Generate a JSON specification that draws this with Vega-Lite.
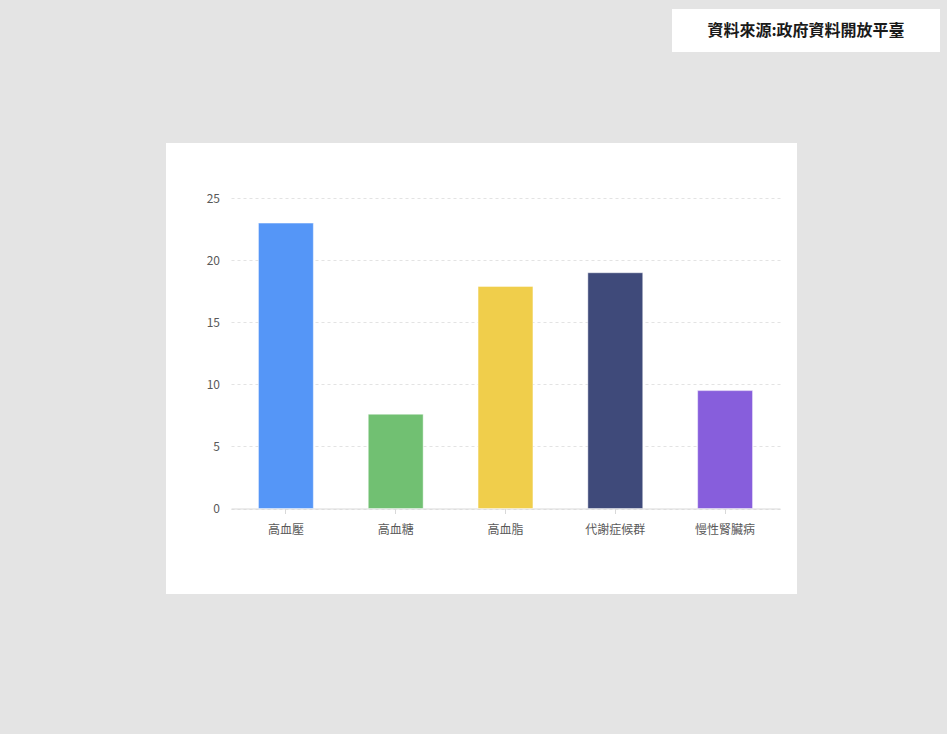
{
  "$schema": "https://vega.github.io/schema/vega-lite/v6.json",
  "background": "#e4e4e4",
  "padding": {"top": 9, "left": 0, "right": 7, "bottom": 140},
  "autosize": {"type": "pad"},
  "config": {
    "view": {"stroke": null},
    "font": "Noto Sans CJK TC",
    "concat": {"spacing": 0}
  },
  "spacing": 91,
  "vconcat": [
    {
      "spacing": 0,
      "hconcat": [
        {
          "width": 672,
          "height": 43,
          "data": {"values": []},
          "mark": "point",
          "encoding": {}
        },
        {
          "width": 268,
          "height": 43,
          "view": {"fill": "white", "stroke": null},
          "data": {"values": [{"label": "資料來源:政府資料開放平臺"}]},
          "mark": {"type": "text", "fontSize": 16, "fontWeight": "bold", "font": "Noto Sans CJK TC", "color": "#1a1a1a", "baseline": "middle", "align": "center"},
          "encoding": {"text": {"field": "label", "type": "nominal"}}
        }
      ]
    },
    {
      "spacing": 0,
      "hconcat": [
        {
          "width": 166,
          "height": 451,
          "data": {"values": []},
          "mark": "point",
          "encoding": {}
        },
        {
          "width": 631,
          "height": 451,
          "view": {"fill": "white", "stroke": null},
          "data": {
            "values": [
              {"disease": "高血壓", "value": 23},
              {"disease": "高血糖", "value": 7.6},
              {"disease": "高血脂", "value": 17.9},
              {"disease": "代謝症候群", "value": 19},
              {"disease": "慢性腎臟病", "value": 9.5}
            ]
          },
          "mark": {"type": "bar", "stroke": "white", "strokeOpacity": 0.45, "strokeWidth": 1},
          "encoding": {
            "x": {
              "field": "disease",
              "type": "nominal",
              "sort": null,
              "scale": {"range": [65, 614], "paddingInner": 0.5, "paddingOuter": 0.25},
              "axis": {
                "title": null,
                "offset": -85.5,
                "labelAngle": 0,
                "domainColor": "#d9d9d9",
                "tickColor": "#d9d9d9",
                "tickSize": 5,
                "labelPadding": 11,
                "labelFontSize": 12,
                "labelColor": "#595959",
                "labelFont": "Noto Sans CJK TC",
                "grid": false
              }
            },
            "y": {
              "field": "value",
              "type": "quantitative",
              "scale": {"domain": [0, 25], "range": [365.5, 55.3], "nice": false},
              "axis": {
                "title": null,
                "offset": -57.5,
                "ticks": false,
                "domain": false,
                "labelPadding": 4,
                "values": [0, 5, 10, 15, 20, 25],
                "grid": true,
                "gridColor": "#e3e3e3",
                "gridDash": [3, 3],
                "labelColor": "#595959",
                "labelFontSize": 12,
                "labelFont": "Noto Sans CJK TC"
              }
            },
            "color": {
              "field": "disease",
              "type": "nominal",
              "sort": null,
              "scale": {"range": ["#5596F7", "#71C072", "#F0CE4B", "#3F4A7A", "#875EDC"]},
              "legend": null
            }
          }
        }
      ]
    }
  ]
}
